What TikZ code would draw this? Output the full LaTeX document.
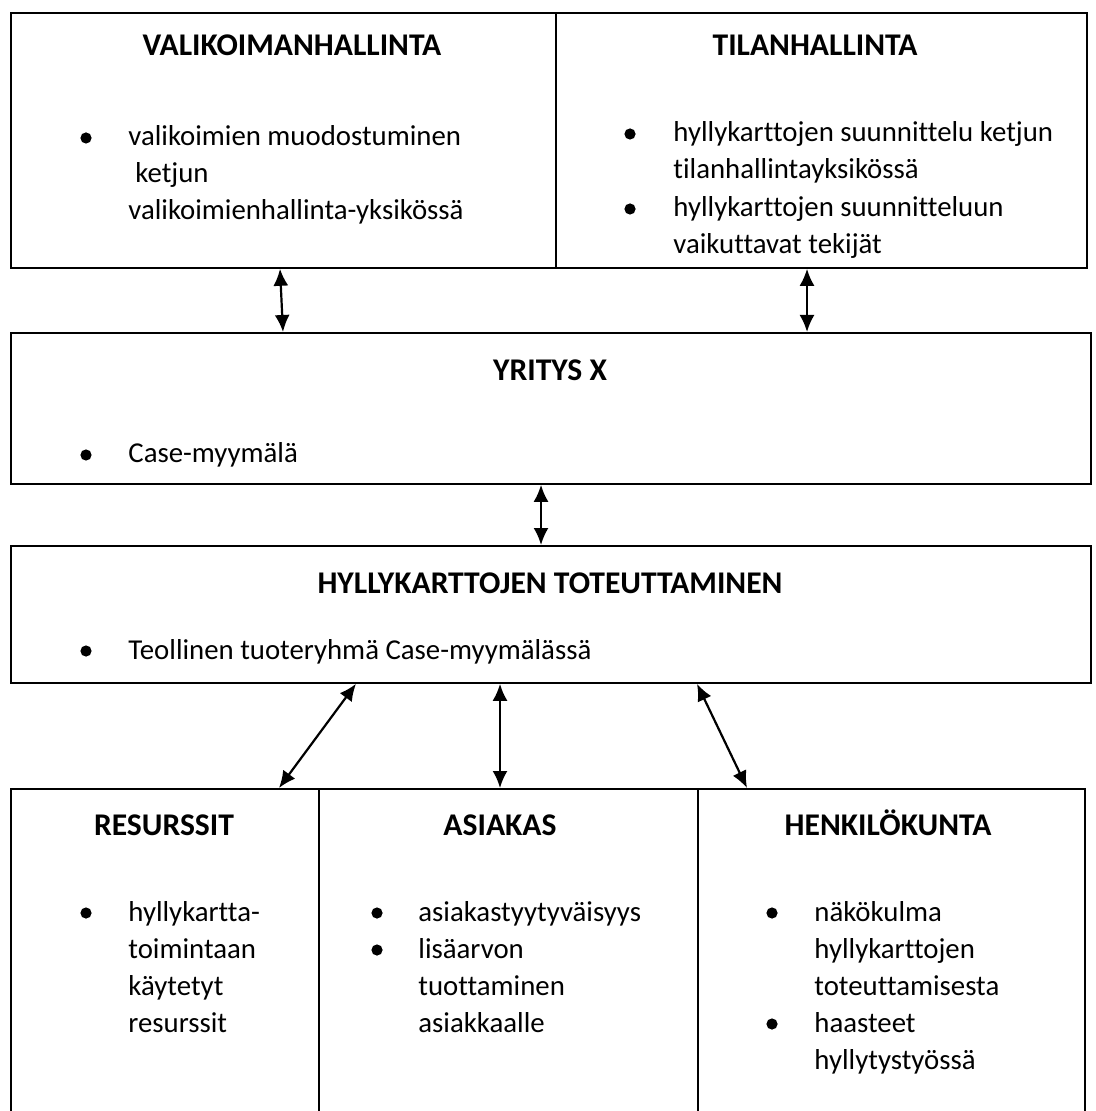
\documentclass[tikz,border=0pt]{standalone}
\usepackage{fontspec}
\setmainfont{Carlito}[Ligatures=CommonOff]
\usetikzlibrary{arrows.meta,calc}
\begin{document}
\begin{tikzpicture}[x=0.5pt,y=-0.5pt,
  box/.style={draw,line width=0.9pt,rectangle,inner sep=0pt,anchor=north west},
  ttl/.style={font=\fontsize{15.8pt}{19pt}\selectfont\bfseries,anchor=base,inner sep=0pt},
  txt/.style={font=\fontsize{14.4pt}{18pt}\selectfont,anchor=base west,inner sep=0pt},
  dot/.style={circle,fill,inner sep=0pt,minimum size=5.6pt},
  link/.style={line width=1.1pt,{Latex[length=8.5pt,width=7.5pt]}-{Latex[length=8.5pt,width=7.5pt]}}]
\clip (0,0) rectangle (1095,1111);

% boxes
\node[box,minimum width=272.5pt,minimum height=127.5pt] (valik) at (10,12) {};
\node[box,minimum width=265.5pt,minimum height=127.5pt] (tila) at (555,12) {};
\node[box,minimum width=540pt,minimum height=75.5pt] (yritys) at (10,332) {};
\node[box,minimum width=540pt,minimum height=68.5pt] (hylly) at (10,545) {};
\node[box,minimum width=154pt,minimum height=170pt] (res) at (10,788) {};
\node[box,minimum width=189.5pt,minimum height=170pt] (asi) at (318,788) {};
\node[box,minimum width=193.5pt,minimum height=170pt] (hen) at (697,788) {};

% VALIKOIMANHALLINTA
\node[ttl] (t1) at (292,56) {VALIKOIMANHALLINTA};
\node[dot] (b1) at (86,138) {};
\node[txt] (l1a) at (128,146) {valikoimien muodostuminen};
\node[txt] (l1b) at (135,183) {ketjun};
\node[txt] (l1c) at (128,220) {valikoimienhallinta-yksikössä};

% TILANHALLINTA
\node[ttl] (t2) at (815,56) {TILANHALLINTA};
\node[dot] (b2a) at (630,134) {};
\node[txt] (l2a) at (673,142) {hyllykarttojen suunnittelu ketjun};
\node[txt] (l2b) at (673,179) {tilanhallintayksikössä};
\node[dot] (b2b) at (630,209) {};
\node[txt] (l2c) at (673,217) {hyllykarttojen suunnitteluun};
\node[txt] (l2d) at (673,254) {vaikuttavat tekijät};

% YRITYS X
\node[ttl] (t3) at (550,381) {YRITYS X};
\node[dot] (b3) at (86,455) {};
\node[txt] (l3) at (128,463) {Case-myymälä};

% HYLLYKARTTOJEN TOTEUTTAMINEN
\node[ttl] (t4) at (550,593) {HYLLYKARTTOJEN TOTEUTTAMINEN};
\node[dot] (b4) at (86,651) {};
\node[txt] (l4) at (128,659) {Teollinen tuoteryhmä Case-myymälässä};

% RESURSSIT
\node[ttl] (t5) at (164,835) {RESURSSIT};
\node[dot] (b5) at (86,913) {};
\node[txt] (l5a) at (128,921) {hyllykartta-};
\node[txt] (l5b) at (128,958) {toimintaan};
\node[txt] (l5c) at (128,995) {käytetyt};
\node[txt] (l5d) at (128,1032) {resurssit};

% ASIAKAS
\node[ttl] (t6) at (500,835) {ASIAKAS};
\node[dot] (b6a) at (377,913) {};
\node[txt] (l6a) at (418,921) {asiakastyytyväisyys};
\node[dot] (b6b) at (377,950) {};
\node[txt] (l6b) at (418,958) {lisäarvon};
\node[txt] (l6c) at (418,995) {tuottaminen};
\node[txt] (l6d) at (418,1032) {asiakkaalle};

% HENKILÖKUNTA
\node[ttl] (t7) at (888,835) {HENKILÖKUNTA};
\node[dot] (b7a) at (772,913) {};
\node[txt] (l7a) at (814,921) {näkökulma};
\node[txt] (l7b) at (814,958) {hyllykarttojen};
\node[txt] (l7c) at (814,995) {toteuttamisesta};
\node[dot] (b7b) at (772,1024) {};
\node[txt] (l7d) at (814,1032) {haasteet};
\node[txt] (l7e) at (814,1069) {hyllytystyössä};

% connectors
\draw[link] ($(valik.south west)+(270,0)$) -- ($(yritys.north west)+(273,0)$);
\draw[link] ($(tila.south west)+(252,0)$) -- ($(yritys.north west)+(797,0)$);
\draw[link] ($(yritys.south west)+(531,0)$) -- ($(hylly.north west)+(531,0)$);
\draw[link] ($(hylly.south west)+(346,0)$) -- ($(res.north west)+(269,0)$);
\draw[link] ($(hylly.south west)+(490,0)$) -- ($(asi.north west)+(182,0)$);
\draw[link] ($(hylly.south west)+(687,0)$) -- ($(hen.north west)+(50,0)$);
\end{tikzpicture}
\end{document}
